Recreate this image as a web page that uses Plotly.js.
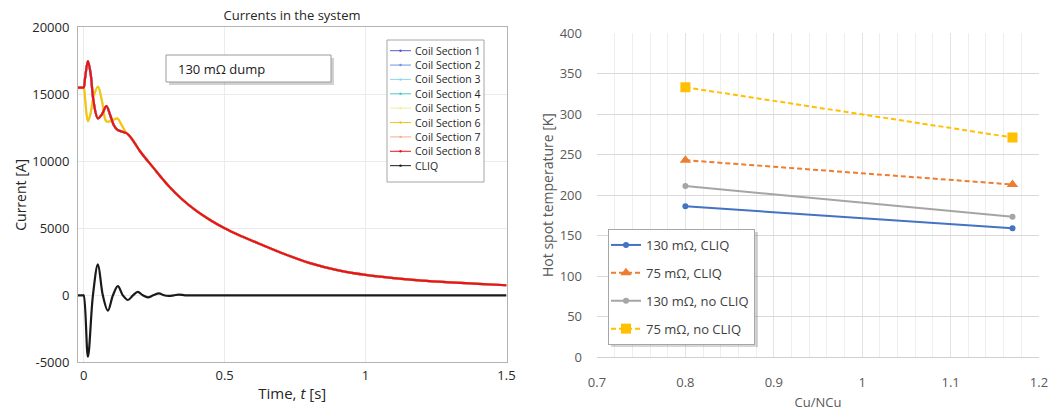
<!DOCTYPE html>
<html><head><meta charset="utf-8">
<script src="https://cdn.plot.ly/plotly-3.0.1.min.js"></script>
<style>html,body{margin:0;padding:0;background:#fff;overflow:hidden}#chart{width:1061px;height:411px}</style>
</head><body><div id="chart"></div>
<script>
const W = 1061, H = 411;

// ---------- Left chart: currents in the system (130 mOhm dump) ----------
const timeCoil = [-0.02, -0.004, 0, 0.005, 0.0152, 0.025, 0.035, 0.0507, 0.065, 0.0804, 0.095, 0.108, 0.12, 0.135, 0.15, 0.16, 0.18, 0.2, 0.25, 0.3, 0.35, 0.4, 0.45, 0.5, 0.55, 0.6, 0.7, 0.8, 0.9, 1.0, 1.1, 1.2, 1.3, 1.4, 1.5];
const currentRedGroup = [15500, 15500, 15500, 16200, 17480, 16500, 14500, 13200, 13500, 14120, 13400, 12650, 12350, 12220, 12120, 11960, 11400, 10750, 9450, 8200, 7150, 6300, 5600, 5000, 4500, 4050, 3180, 2420, 1880, 1520, 1280, 1100, 970, 860, 750];
const currentYellowGroup = [15500, 15500, 15500, 14700, 12980, 13600, 14800, 15580, 14500, 12980, 13000, 13120, 13200, 12700, 12150, 11960, 11400, 10750, 9450, 8200, 7150, 6300, 5600, 5000, 4500, 4050, 3180, 2420, 1880, 1520, 1280, 1100, 970, 860, 750];
const timeCliq = [-0.02, -0.003, 0, 0.0152, 0.033, 0.0507, 0.068, 0.086, 0.104, 0.1215, 0.139, 0.157, 0.175, 0.192, 0.21, 0.228, 0.247, 0.267, 0.285, 0.302, 0.32, 0.338, 0.36, 0.4, 0.6, 1.0, 1.5];
const currentCliq = [0, 0, 0, -4580, 0, 2310, 0, -1150, 0, 690, 0, -350, 0, 250, 0, -150, 0, 150, 0, -50, 0, 50, 0, 0, 0, 0, 0];
const coilSectionNames = ['Coil Section 1', 'Coil Section 2', 'Coil Section 3', 'Coil Section 4', 'Coil Section 5', 'Coil Section 6', 'Coil Section 7', 'Coil Section 8'];
const coilSectionGroup = ['red', 'red', 'red', 'red', 'yellow', 'yellow', 'red', 'red'];
const coilSectionColors = ['#5a5ad2', '#6f90e6', '#8fd8ea', '#4cc8c8', '#f3ef9a', '#f2c415', '#f5ae8c', '#e8141e'];
const cliqName = 'CLIQ';
const cliqColor = '#1a1a1a';

// ---------- Right chart: hot spot temperature vs Cu/NCu ----------
const cuNcuRatio = [0.8, 1.17];
const temp130Cliq = [186, 159];
const temp75Cliq = [243, 213];
const temp130NoCliq = [211, 173];
const temp75NoCliq = [333, 271];
const rightSeriesNames = ['130 mΩ, CLIQ', '75 mΩ, CLIQ', '130 mΩ, no CLIQ', '75 mΩ, no CLIQ'];

const FONT = 'Open Sans, Liberation Sans, sans-serif';
const px = v => v / W;
const py = v => 1 - v / H;

const traces = [];
coilSectionNames.forEach((name, i) => {
  traces.push({
    x: timeCoil,
    y: coilSectionGroup[i] === 'red' ? currentRedGroup : currentYellowGroup,
    name: name, type: 'scatter', mode: 'lines',
    line: {color: coilSectionColors[i], width: 2.2, shape: 'spline', smoothing: 1},
    xaxis: 'x', yaxis: 'y', showlegend: false, hoverinfo: 'skip'
  });
});
traces.push({
  x: timeCliq, y: currentCliq, name: cliqName, type: 'scatter', mode: 'lines',
  line: {color: cliqColor, width: 2.2, shape: 'spline', smoothing: 1},
  xaxis: 'x', yaxis: 'y', showlegend: false, hoverinfo: 'skip'
});

const rightStyles = [
  {color: '#4472c4', dash: 'solid', symbol: 'circle', size: 6},
  {color: '#ed7d31', dash: '5px,3px', symbol: 'triangle-up', size: 10},
  {color: '#a5a5a5', dash: 'solid', symbol: 'circle', size: 6},
  {color: '#ffc000', dash: '5px,3px', symbol: 'square', size: 10}
];
[temp130Cliq, temp75Cliq, temp130NoCliq, temp75NoCliq].forEach((vals, i) => {
  const s = rightStyles[i];
  traces.push({
    x: cuNcuRatio, y: vals, name: rightSeriesNames[i], type: 'scatter', mode: 'lines+markers',
    line: {color: s.color, width: 2, dash: s.dash},
    marker: {color: s.color, symbol: s.symbol, size: s.size},
    xaxis: 'x2', yaxis: 'y2', legend: 'legend2', legendgroup: 'g' + i
  });
});

const shapes = [];
const annotations = [];
// "130 mΩ dump" box with shadow
shapes.push({type: 'rect', xref: 'paper', yref: 'paper', x0: px(169), x1: px(334), y0: py(58), y1: py(85), fillcolor: 'rgba(0,0,0,0.18)', line: {width: 0}, layer: 'above'});
shapes.push({type: 'rect', xref: 'paper', yref: 'paper', x0: px(166), x1: px(331), y0: py(55), y1: py(82), fillcolor: '#ffffff', line: {color: '#9a9a9a', width: 1}, layer: 'above'});
annotations.push({xref: 'paper', yref: 'paper', x: px(176), y: py(69), xanchor: 'left', yanchor: 'middle', text: '130 mΩ dump', showarrow: false, font: {family: FONT, size: 13, color: '#1a1a1a'}});

// left legend box
const lgTop = 40, lgBottom = 182, lgLeft = 387, lgRight = 484;
shapes.push({type: 'rect', xref: 'paper', yref: 'paper', x0: px(lgLeft), x1: px(lgRight), y0: py(lgTop), y1: py(lgBottom), fillcolor: '#ffffff', line: {color: '#a6a6a6', width: 1}, layer: 'above'});
const legendNames = coilSectionNames.concat([cliqName]);
const legendColors = coilSectionColors.concat([cliqColor]);
legendNames.forEach((name, i) => {
  const yy = 50.7 + i * 14.37;
  shapes.push({type: 'line', xref: 'paper', yref: 'paper', x0: px(390), x1: px(411), y0: py(yy), y1: py(yy), line: {color: legendColors[i], width: 1}, layer: 'above'});
  shapes.push({type: 'circle', xref: 'paper', yref: 'paper', x0: px(399.3), x1: px(401.7), y0: py(yy - 1.2), y1: py(yy + 1.2), fillcolor: legendColors[i], line: {width: 0}, layer: 'above'});
  annotations.push({xref: 'paper', yref: 'paper', x: px(413), y: py(yy), xanchor: 'left', yanchor: 'middle', text: name, showarrow: false, font: {family: FONT, size: 10.5, color: '#1f1f1f'}});
});

// right legend shadow
shapes.push({type: 'rect', xref: 'paper', yref: 'paper', x0: px(611), x1: px(758), y0: py(232), y1: py(347), fillcolor: 'rgba(0,0,0,0.16)', line: {width: 0}, layer: 'above'});

const layout = {
  width: W, height: H,
  margin: {l: 0, r: 0, t: 0, b: 0},
  paper_bgcolor: '#ffffff', plot_bgcolor: '#ffffff',
  font: {family: FONT, color: '#262626'},
  title: {text: 'Currents in the system', x: px(292), xanchor: 'center', y: py(15), yanchor: 'middle', xref: 'paper', yref: 'paper', font: {family: FONT, size: 13, color: '#262626'}},
  showlegend: true,
  xaxis: {
    domain: [px(78), px(506.5)], range: [-0.02, 1.5], tickvals: [0, 0.5, 1, 1.5], ticktext: ['0', '0.5', '1', '1.5'],
    showline: true, mirror: true, linecolor: '#b3b3b3', linewidth: 1, showgrid: true, gridcolor: '#ebebeb', zeroline: false,
    ticks: '', ticklabelstandoff: 1, tickfont: {family: FONT, size: 13, color: '#262626'},
    title: {text: 'Time, <i>t</i> [s]', standoff: 5, font: {family: FONT, size: 15, color: '#262626'}},
    automargin: false, fixedrange: true
  },
  yaxis: {
    domain: [py(362.3), py(27.3)], range: [-5000, 20000], tickvals: [-5000, 0, 5000, 10000, 15000, 20000], ticktext: ['-5000', '0', '5000', '10000', '15000', '20000'],
    showline: true, mirror: true, linecolor: '#b3b3b3', linewidth: 1, showgrid: true, gridcolor: '#ebebeb', zeroline: false,
    ticks: '', ticklabelstandoff: 5, tickfont: {family: FONT, size: 13, color: '#262626'},
    title: {text: 'Current [A]', standoff: 2, font: {family: FONT, size: 14, color: '#262626'}},
    automargin: false, fixedrange: true
  },
  xaxis2: {
    domain: [px(597), px(1039)], range: [0.7, 1.2], dtick: 0.1, tick0: 0.7,
    showline: false, showgrid: true, gridcolor: '#e3e3e3', zeroline: false,
    minor: {dtick: 0.02, showgrid: true, gridcolor: '#eeeeee', ticks: ''},
    ticks: '', ticklabelstandoff: 16, tickfont: {family: FONT, size: 13, color: '#595959'},
    title: {text: 'Cu/NCu', standoff: 14, font: {family: FONT, size: 13, color: '#595959'}},
    anchor: 'y2', automargin: false, fixedrange: true
  },
  yaxis2: {
    domain: [py(357), py(33)], range: [0, 400], dtick: 50, tick0: 0,
    showline: false, showgrid: true, gridcolor: '#d9d9d9', zeroline: true, zerolinecolor: '#d0d0d0', zerolinewidth: 1,
    ticks: '', ticklabelstandoff: 14, tickfont: {family: FONT, size: 13, color: '#595959'},
    title: {text: 'Hot spot temperature [K]', standoff: 2, font: {family: FONT, size: 14, color: '#595959'}},
    anchor: 'x2', automargin: false, fixedrange: true
  },
  legend2: {
    x: px(608), y: py(229), xanchor: 'left', yanchor: 'top', xref: 'paper', yref: 'paper',
    bgcolor: '#ffffff', bordercolor: '#a6a6a6', borderwidth: 1, indentation: -3,
    font: {family: FONT, size: 13, color: '#404040'}, tracegroupgap: 8, itemclick: false, itemdoubleclick: false
  },
  shapes: shapes,
  annotations: annotations
};

Plotly.newPlot('chart', traces, layout, {staticPlot: true, displayModeBar: false});
</script>
</body></html>
